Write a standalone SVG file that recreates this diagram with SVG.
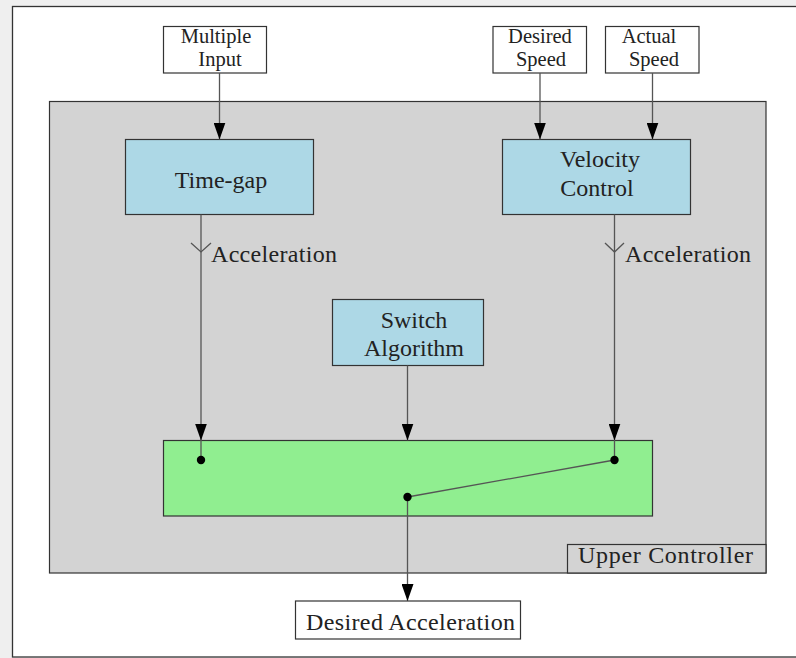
<svg xmlns="http://www.w3.org/2000/svg" width="796" height="658" viewBox="0 0 796 658">
<style>
  text{font-family:"Liberation Serif","Times New Roman",serif;font-size:24px;fill:#222;}
  .c{text-anchor:middle;}
  .s{font-size:20.5px;}
  .box{stroke:#333;stroke-width:1.2;}
  .w{fill:#fff;}
  .blue{fill:#add8e6;}
  .conn{stroke:#555;stroke-width:1.3;fill:none;}
</style>
<defs>
  <marker id="ah" markerUnits="userSpaceOnUse" markerWidth="17" markerHeight="12" refX="17" refY="6" orient="auto">
    <path d="M0,0 L17,6 L0,12 z" fill="#000"/>
  </marker>
</defs>
<rect x="0" y="0" width="796" height="658" fill="#efefef"/>
<rect x="12.5" y="6.5" width="790" height="650.5" fill="#fff" stroke="#333" stroke-width="1.3"/>

<g id="upper-controller">
  <rect x="49.5" y="101.5" width="716.5" height="471.5" fill="#d3d3d3" class="box"/>
  <rect x="567.5" y="544.5" width="198.5" height="28.5" fill="#d3d3d3" class="box"/>
  <text x="578" y="563" textLength="175" lengthAdjust="spacing">Upper Controller</text>
</g>

<g id="multiple-input">
  <rect x="163.5" y="26.5" width="103" height="46.5" class="box w"/>
  <text class="c s" x="216" y="43">Multiple</text>
  <text class="c s" x="220" y="66">Input</text>
</g>
<g id="desired-speed">
  <rect x="493" y="26.5" width="93.5" height="46.5" class="box w"/>
  <text class="c s" x="540" y="43">Desired</text>
  <text class="c s" x="541" y="66">Speed</text>
</g>
<g id="actual-speed">
  <rect x="605.5" y="26.5" width="93.5" height="46.5" class="box w"/>
  <text class="c s" x="649" y="43">Actual</text>
  <text class="c s" x="654" y="66">Speed</text>
</g>

<g id="time-gap">
  <rect x="125.5" y="139.5" width="188" height="75" class="box blue"/>
  <text class="c" x="221" y="188">Time-gap</text>
</g>
<g id="velocity-control">
  <rect x="502.5" y="139.5" width="188" height="75" class="box blue"/>
  <text class="c" x="600" y="167">Velocity</text>
  <text class="c" x="597" y="196">Control</text>
</g>
<g id="switch-algorithm">
  <rect x="332.5" y="299.5" width="151" height="66" class="box blue"/>
  <text class="c" x="414" y="328">Switch</text>
  <text class="c" x="414" y="356">Algorithm</text>
</g>

<g id="switch">
  <rect x="163.5" y="440.5" width="489" height="75.5" fill="#90ee90" class="box"/>
</g>

<g id="desired-acceleration">
  <rect x="295.5" y="601" width="225" height="38" class="box w"/>
  <text x="306" y="630" textLength="209" lengthAdjust="spacing">Desired Acceleration</text>
</g>

<g id="connectors">
  <line class="conn" x1="219.5" y1="73" x2="219.5" y2="139.5" marker-end="url(#ah)"/>
  <line class="conn" x1="540" y1="73" x2="540" y2="139.5" marker-end="url(#ah)"/>
  <line class="conn" x1="652.5" y1="73" x2="652.5" y2="139.5" marker-end="url(#ah)"/>

  <line class="conn" x1="201" y1="214.5" x2="201" y2="440.5" marker-end="url(#ah)"/>
  <line class="conn" x1="201" y1="440" x2="201" y2="460"/>
  <polyline class="conn" points="191,243 201,252 211,243"/>
  <text x="211" y="262" textLength="126" lengthAdjust="spacing">Acceleration</text>

  <line class="conn" x1="614.5" y1="214.5" x2="614.5" y2="440.5" marker-end="url(#ah)"/>
  <line class="conn" x1="614.5" y1="440" x2="614.5" y2="460"/>
  <polyline class="conn" points="605,243 614.5,252 624,243"/>
  <text x="625" y="262" textLength="126" lengthAdjust="spacing">Acceleration</text>

  <line class="conn" x1="407.5" y1="365.5" x2="407.5" y2="440.5" marker-end="url(#ah)"/>

  <line class="conn" x1="407.5" y1="497" x2="614.5" y2="460"/>
  <line class="conn" x1="407.5" y1="497" x2="407.5" y2="601" marker-end="url(#ah)"/>

  <circle cx="201" cy="460" r="4.2" fill="#000"/>
  <circle cx="614.5" cy="460" r="4.2" fill="#000"/>
  <circle cx="407.5" cy="497" r="4.2" fill="#000"/>
</g>
</svg>
